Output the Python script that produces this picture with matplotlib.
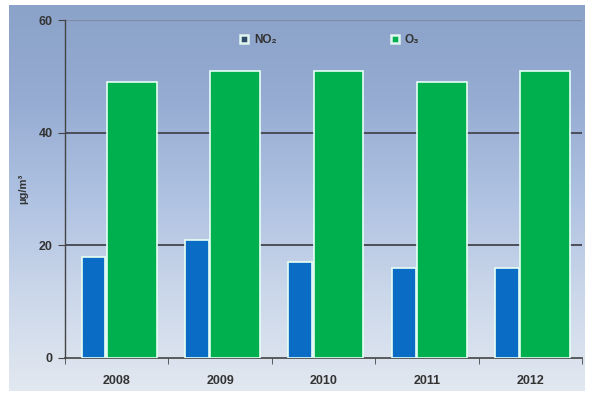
import numpy as np
import matplotlib
matplotlib.use("Agg")
import matplotlib.pyplot as plt
from matplotlib.colors import LinearSegmentedColormap
from matplotlib.lines import Line2D

plt.rcParams['font.family'] = ['Liberation Sans', 'DejaVu Sans']

years = ['2008', '2009', '2010', '2011', '2012']
no2 = [18, 21, 17, 16, 16]
o3 = [49, 51, 51, 49, 51]

blue = '#0a6cc4'
green = '#00b04f'
edge = '#e6fff4'
dark = '#333333'

fig = plt.figure(figsize=(5.9, 3.96), dpi=100, facecolor='white')

# sky-like background behind the chart
bg = fig.add_axes([9/590, 5/396, 576/590, 386/396])
sky = LinearSegmentedColormap.from_list('sky', ['#e2e8f0', '#cbd7ea', '#afc2e2', '#96acd2', '#8ba2c9'])
grad = np.linspace(0, 1, 256).reshape(-1, 1)
bg.imshow(grad, aspect='auto', cmap=sky, origin='lower', extent=[0, 1, 0, 1])
bg.axis('off')

ax = fig.add_axes([65/590, 38/396, 517/590, 338/396])
ax.patch.set_alpha(0)

x = np.arange(len(years))
ax.bar(x - 0.225, no2, width=0.23, color=blue, edgecolor=edge, linewidth=1.2, zorder=3)
ax.bar(x + 0.145, o3, width=0.48, color=green, edgecolor=edge, linewidth=1.2, zorder=3)

ax.set_xlim(-0.5, 4.5)
ax.set_ylim(0, 60)
ax.set_yticks([0, 20, 40, 60])
ax.set_xticks(x)
ax.set_xticklabels(years)
ax.set_xticks(np.arange(-0.5, 5, 1), minor=True)
ax.tick_params(axis='x', which='major', length=0, pad=12)
ax.tick_params(axis='x', which='minor', length=4, color='#444444', direction='out')
ax.tick_params(axis='y', length=5, color='#444444', pad=4)
for lab in ax.get_xticklabels() + ax.get_yticklabels():
    lab.set_fontweight('bold')
    lab.set_fontsize(9)
    lab.set_color(dark)

ax.axhline(20, color='#4a4f5a', linewidth=1.4, zorder=1)
ax.axhline(40, color='#4a4f5a', linewidth=1.4, zorder=1)
ax.axhline(60, color='#7f8ca6', linewidth=0.8, zorder=1)

for s in ['top', 'right']:
    ax.spines[s].set_visible(False)
ax.spines['left'].set_color('#444444')
ax.spines['bottom'].set_color('#444444')
ax.spines['left'].set_linewidth(1.0)
ax.spines['bottom'].set_linewidth(1.2)

ax.set_ylabel('µg/m³', fontsize=8, fontweight='bold', color=dark, labelpad=7)

handles = [
    Line2D([], [], linestyle='none', marker='s', markersize=6, markerfacecolor='#2f4a6a',
           markeredgecolor='#dff5ee', markeredgewidth=1.8),
    Line2D([], [], linestyle='none', marker='s', markersize=6, markerfacecolor=green,
           markeredgecolor='#dff5ee', markeredgewidth=1.8),
]
leg = ax.legend(handles, ['NO₂', 'O₃'], ncol=2, loc='upper center',
                bbox_to_anchor=(0.51, 0.99), frameon=False, columnspacing=9.5,
                handletextpad=0.3, handlelength=1.0, fontsize=8.5)
for t in leg.get_texts():
    t.set_color(dark)
    t.set_fontweight('bold')

fig.savefig('out.png', dpi=100, facecolor='white')
